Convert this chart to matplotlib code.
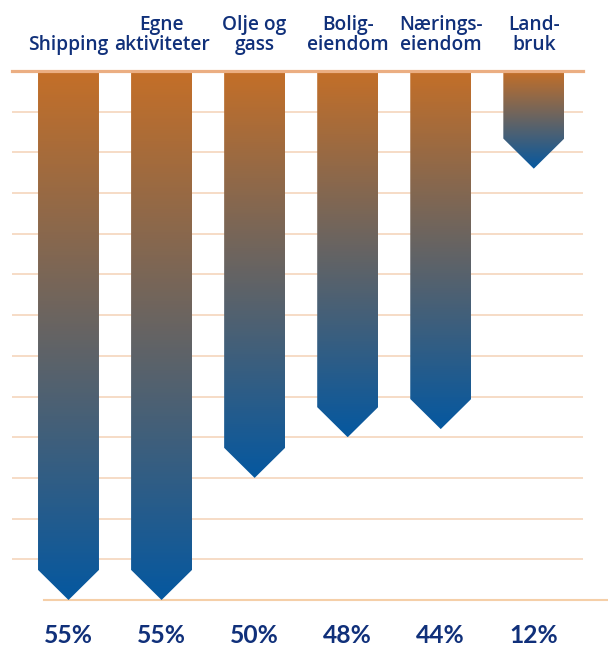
import numpy as np
import matplotlib
matplotlib.use("Agg")
import matplotlib.pyplot as plt
from matplotlib.patches import Polygon
from matplotlib.colors import LinearSegmentedColormap
from matplotlib import transforms
from matplotlib.lines import Line2D

# ---- data ----
categories = ["Shipping", "Egne\naktiviteter", "Olje og\ngass", "Bolig-\neiendom",
              "Nærings-\neiendom", "Land-\nbruk"]
pct_labels = ["55%", "55%", "50%", "48%", "44%", "12%"]
# arrow depth in grid units (13 grid steps from top line to bottom line)
arrow_depth = [13.0, 13.0, 10.0, 9.0, 8.8, 2.4]
n_grid = 13

# ---- styles ----
W, H = 608, 648
navy = "#10307A"
orange = "#C46F28"
blue = "#0558A0"
grid_col = "#F6DCC6"
top_col = "#EBAE82"
bottom_col = "#F5CFA8"
bar_w = 0.655
head_h = 0.74

cmap = LinearSegmentedColormap.from_list("ob", [orange, blue])

fig = plt.figure(figsize=(W / 100, H / 100), dpi=100)
fig.patch.set_facecolor("white")
x_left_px, x_right_px = 12, 583
y_top_px, y_bot_px = 71, 600
ax = fig.add_axes([x_left_px / W, (H - y_bot_px) / H,
                   (x_right_px - x_left_px) / W, (y_bot_px - y_top_px) / H])
c0, step = 68.5, 93.06
ax.set_xlim((x_left_px - c0) / step, (x_right_px - c0) / step)
ax.axis("off")

# grid
for v in range(1, n_grid):
    ax.axhline(v, color=grid_col, lw=1.4, zorder=0)
ax.axhline(0, color=top_col, lw=2.3, zorder=3, clip_on=False)
fig.add_artist(Line2D([44 / W, 1.0], [(H - y_bot_px) / H] * 2,
                      color=bottom_col, lw=1.5, zorder=0))

grad = np.linspace(0, 1, 512).reshape(-1, 1)
for i, d in enumerate(arrow_depth):
    hw = bar_w / 2
    verts = [(i - hw, 0), (i + hw, 0), (i + hw, d - head_h), (i, d), (i - hw, d - head_h)]
    poly = Polygon(verts, closed=True, facecolor="none", edgecolor="none")
    ax.add_patch(poly)
    im = ax.imshow(grad, extent=(i - hw, i + hw, d, 0), origin="upper",
                   cmap=cmap, aspect="auto", zorder=2, interpolation="bilinear")
    im.set_clip_path(poly)

ax.set_xlim((x_left_px - c0) / step, (x_right_px - c0) / step)
ax.set_ylim(n_grid, 0)

trans = transforms.blended_transform_factory(ax.transData, fig.transFigure)
for i, lab in enumerate(categories):
    lines = lab.split("\n")
    base = [50, 30]
    for k, line in enumerate(reversed(lines)):
        ax.text(i, (H - base[k]) / H, line, transform=trans, ha="center",
                va="baseline", fontsize=13.8, color=navy, fontweight=600,
                family=["Open Sans", "DejaVu Sans"])

for i, p in enumerate(pct_labels):
    ax.text(i, (H - 643) / H, p, transform=trans, ha="center", va="baseline",
            fontsize=17.7, fontweight="bold", color=navy, family=["Lato", "DejaVu Sans"])

fig.savefig("out.png", dpi=100)
